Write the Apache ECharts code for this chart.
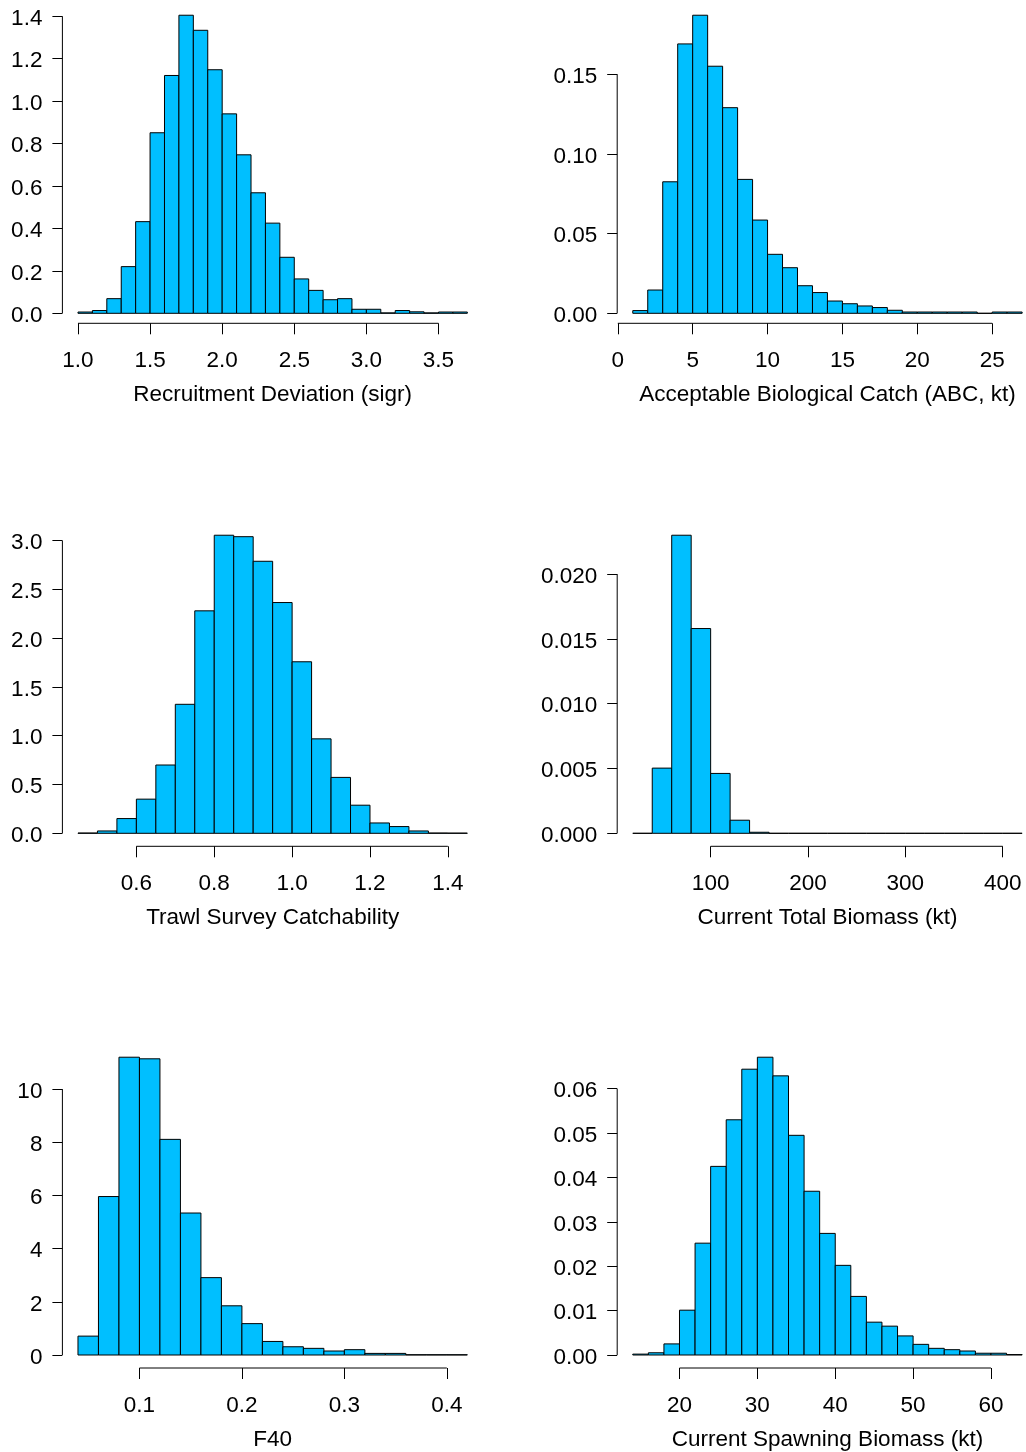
<!DOCTYPE html>
<html>
<head>
<meta charset="utf-8">
<title>Posterior distributions</title>
<script src="https://cdn.jsdelivr.net/npm/echarts@6/dist/echarts.min.js"></script>
<style>
  html, body { margin: 0; padding: 0; background: #fff; overflow: hidden; }
  /* the right-hand plot regions run slightly past the page edge */
  #chart { width: 1050px; height: 1452px; }
</style>
</head>
<body>
<div id="chart"></div>
<script>
// ---- Histogram data (density per bin; edges are bin boundaries) ----
const sigrEdges = [1.0, 1.1, 1.2, 1.3, 1.4, 1.5, 1.6, 1.7, 1.8, 1.9, 2.0, 2.1, 2.2, 2.3, 2.4, 2.5, 2.6, 2.7, 2.8, 2.9, 3.0, 3.1, 3.2, 3.3, 3.4, 3.5, 3.6, 3.7];
const sigrDensity = [0.006, 0.013, 0.069, 0.220, 0.432, 0.851, 1.121, 1.405, 1.334, 1.148, 0.940, 0.747, 0.568, 0.425, 0.264, 0.162, 0.108, 0.064, 0.069, 0.019, 0.019, 0.002, 0.013, 0.007, 0.002, 0.006, 0.006];
const sigrXLabels = ['1.0', '1.5', '2.0', '2.5', '3.0', '3.5'];
const sigrYLabels = ['0.0', '0.2', '0.4', '0.6', '0.8', '1.0', '1.2', '1.4'];

const abcEdges = [1, 2, 3, 4, 5, 6, 7, 8, 9, 10, 11, 12, 13, 14, 15, 16, 17, 18, 19, 20, 21, 22, 23, 24, 25, 26, 27];
const abcDensity = [0.0017, 0.0146, 0.0825, 0.169, 0.187, 0.155, 0.129, 0.084, 0.0585, 0.037, 0.0286, 0.0173, 0.013, 0.0077, 0.006, 0.0046, 0.0036, 0.0019, 0.0008, 0.0008, 0.0008, 0.0008, 0.0008, 0, 0.0008, 0.0008];
const abcXLabels = ['0', '5', '10', '15', '20', '25'];
const abcYLabels = ['0.00', '0.05', '0.10', '0.15'];

const qEdges = [0.45, 0.50, 0.55, 0.60, 0.65, 0.70, 0.75, 0.80, 0.85, 0.90, 0.95, 1.00, 1.05, 1.10, 1.15, 1.20, 1.25, 1.30, 1.35, 1.40, 1.45];
const qDensity = [0.003, 0.024, 0.151, 0.350, 0.700, 1.322, 2.280, 3.055, 3.040, 2.788, 2.365, 1.758, 0.968, 0.573, 0.288, 0.106, 0.069, 0.024, 0.003, 0.002];
const qXLabels = ['0.6', '0.8', '1.0', '1.2', '1.4'];
const qYLabels = ['0.0', '0.5', '1.0', '1.5', '2.0', '2.5', '3.0'];

const totBioEdges = [20, 40, 60, 80, 100, 120, 140, 160, 180, 200, 220, 240, 260, 280, 300, 320, 340, 360, 380, 400, 420];
const totBioDensity = [0, 0.00503, 0.0230, 0.0158, 0.00462, 0.00101, 0.00008, 0, 0, 0, 0, 0, 0, 0, 0, 0, 0, 0, 0, 0];
const totBioXLabels = ['100', '200', '300', '400'];
const totBioYLabels = ['0.000', '0.005', '0.010', '0.015', '0.020'];

const f40Edges = [0.04, 0.06, 0.08, 0.10, 0.12, 0.14, 0.16, 0.18, 0.20, 0.22, 0.24, 0.26, 0.28, 0.30, 0.32, 0.34, 0.36, 0.38, 0.40, 0.42];
const f40Density = [0.71, 5.96, 11.20, 11.14, 8.11, 5.34, 2.91, 1.85, 1.18, 0.51, 0.31, 0.25, 0.15, 0.20, 0.06, 0.06, 0.01, 0.01, 0.01];
const f40XLabels = ['0.1', '0.2', '0.3', '0.4'];
const f40YLabels = ['0', '2', '4', '6', '8', '10'];

const ssbEdges = [14, 16, 18, 20, 22, 24, 26, 28, 30, 32, 34, 36, 38, 40, 42, 44, 46, 48, 50, 52, 54, 56, 58, 60, 62, 64];
const ssbDensity = [0.0002, 0.0005, 0.0025, 0.0101, 0.0252, 0.0425, 0.0530, 0.0644, 0.0671, 0.0629, 0.0495, 0.0369, 0.0274, 0.0202, 0.0132, 0.0074, 0.0065, 0.0043, 0.0024, 0.0015, 0.0012, 0.0009, 0.0004, 0.0004, 0.0001];
const ssbXLabels = ['20', '30', '40', '50', '60'];
const ssbYLabels = ['0.00', '0.01', '0.02', '0.03', '0.04', '0.05', '0.06'];

const panels = [
  { title: 'Recruitment Deviation (sigr)', edges: sigrEdges, dens: sigrDensity, xl: sigrXLabels, yl: sigrYLabels },
  { title: 'Acceptable Biological Catch (ABC, kt)', edges: abcEdges, dens: abcDensity, xl: abcXLabels, yl: abcYLabels },
  { title: 'Trawl Survey Catchability', edges: qEdges, dens: qDensity, xl: qXLabels, yl: qYLabels },
  { title: 'Current Total Biomass (kt)', edges: totBioEdges, dens: totBioDensity, xl: totBioXLabels, yl: totBioYLabels },
  { title: 'F40', edges: f40Edges, dens: f40Density, xl: f40XLabels, yl: f40YLabels },
  { title: 'Current Spawning Biomass (kt)', edges: ssbEdges, dens: ssbDensity, xl: ssbXLabels, yl: ssbYLabels }
];

// ---- Layout of the 3 x 2 panel grid ----
const colLeft = [62.4, 617.2];
const plotWidth = 420.5;
const rowZero = [313.3, 833.3, 1355.3];   // pixel row of density 0 in each panel row
const plotHeight = 310;
const axisDrop = [10, 13, 13];            // x axis sits below the zero line
const FONT = '"Liberation Sans", Arial, Helvetica, sans-serif';
const FONT_SIZE = 22.5;
const FILL = '#00BFFF';

const grids = [], xAxes = [], yAxes = [], series = [];

panels.forEach((p, i) => {
  const row = Math.floor(i / 2), col = i % 2;
  const b0 = p.edges[0], bn = p.edges[p.edges.length - 1];
  const span = bn - b0;
  const ymax = Math.max(...p.dens);
  const xTicks = p.xl.map(Number);
  const yTicks = p.yl.map(Number);
  const drop = axisDrop[row];

  grids.push({
    left: colLeft[col],
    top: rowZero[row] - plotHeight,
    width: plotWidth,
    height: plotHeight
  });

  xAxes.push({
    gridIndex: i,
    type: 'value',
    min: b0 - 0.04 * span,
    max: bn + 0.04 * span,
    offset: drop,
    axisLine: { show: false, onZero: false },
    splitLine: { show: false },
    axisTick: { show: true, customValues: xTicks, length: 11, lineStyle: { color: '#000', width: 1 } },
    axisLabel: {
      customValues: xTicks,
      margin: 26,
      fontSize: FONT_SIZE,
      fontFamily: FONT,
      color: '#000',
      formatter: v => p.xl[xTicks.indexOf(v)] ?? String(v)
    },
    name: p.title,
    nameLocation: 'middle',
    nameGap: 60,
    nameTextStyle: { fontSize: FONT_SIZE, fontFamily: FONT, color: '#000' }
  });

  yAxes.push({
    gridIndex: i,
    type: 'value',
    min: 0,
    max: ymax * 1.04,
    axisLine: { show: false, onZero: false },
    splitLine: { show: false },
    axisTick: { show: true, customValues: yTicks, length: 10, lineStyle: { color: '#000', width: 1 } },
    axisLabel: {
      customValues: yTicks,
      margin: 20,
      fontSize: FONT_SIZE,
      fontFamily: FONT,
      color: '#000',
      formatter: v => '{t|' + (p.yl[yTicks.indexOf(v)] ?? String(v)) + '}',
      rich: { t: { fontSize: FONT_SIZE, fontFamily: FONT, color: '#000', padding: [5, 0, 0, 0] } }
    }
  });

  // histogram bars: [left edge, right edge, density]
  const bins = p.dens.map((d, k) => [p.edges[k], p.edges[k + 1], d]);
  series.push({
    type: 'custom',
    xAxisIndex: i,
    yAxisIndex: i,
    data: bins,
    encode: { x: [0, 1], y: 2 },
    silent: true,
    renderItem: (params, api) => {
      const tl = api.coord([api.value(0), api.value(2)]);
      const br = api.coord([api.value(1), 0]);
      return {
        type: 'rect',
        shape: { x: tl[0], y: tl[1], width: br[0] - tl[0], height: br[1] - tl[1] },
        style: { fill: FILL, stroke: '#000', lineWidth: 1 }
      };
    }
  });

  // axis lines running from the first to the last tick
  series.push({
    type: 'custom',
    xAxisIndex: i,
    yAxisIndex: i,
    data: [[xTicks[0], yTicks[0]]],
    silent: true,
    clip: false,
    renderItem: (params, api) => {
      const xMin = b0 - 0.04 * span;
      const yA = api.coord([xMin, yTicks[0]]);
      const yB = api.coord([xMin, yTicks[yTicks.length - 1]]);
      const xA = api.coord([xTicks[0], 0]);
      const xB = api.coord([xTicks[xTicks.length - 1], 0]);
      const lineStyle = { stroke: '#000', lineWidth: 1 };
      return {
        type: 'group',
        children: [
          { type: 'line', shape: { x1: yA[0], y1: yA[1], x2: yB[0], y2: yB[1] }, style: lineStyle },
          { type: 'line', shape: { x1: xA[0], y1: xA[1] + drop, x2: xB[0], y2: xB[1] + drop }, style: lineStyle }
        ]
      };
    }
  });
});

const chart = echarts.init(document.getElementById('chart'), null, { renderer: 'canvas' });
chart.setOption({
  animation: false,
  backgroundColor: '#fff',
  grid: grids,
  xAxis: xAxes,
  yAxis: yAxes,
  series: series
});
</script>
</body>
</html>
